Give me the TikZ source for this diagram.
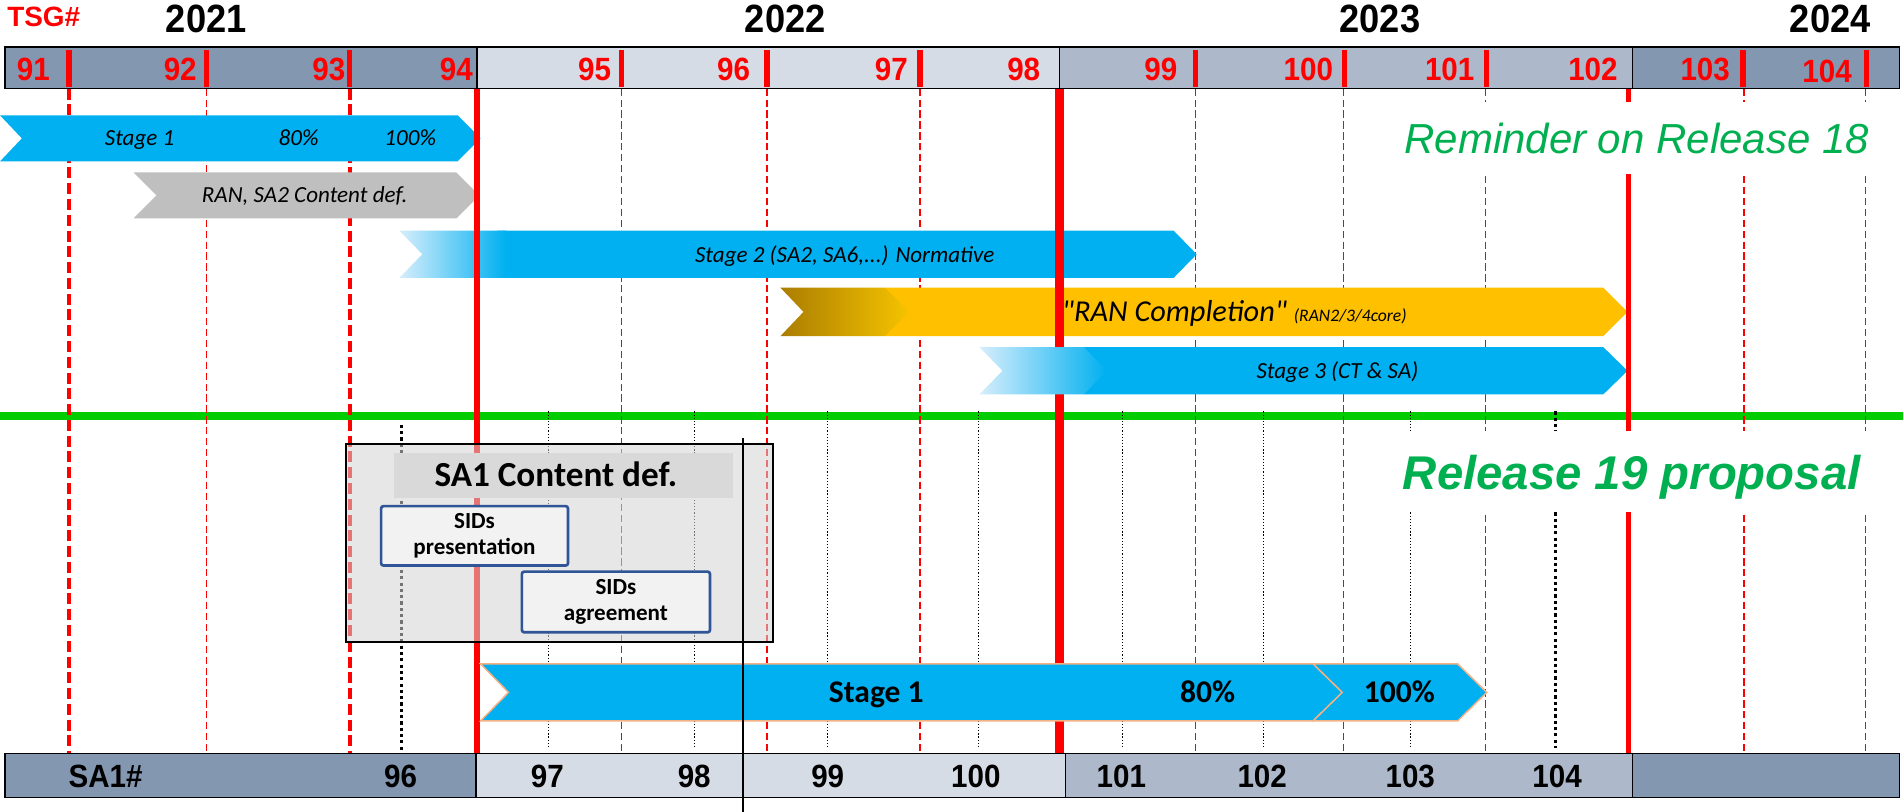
\documentclass[tikz,border=0pt]{standalone}
\usepackage{fontspec}
\setmainfont{Carlito}
\newfontfamily\carlitoplain{Carlito}
\newfontfamily\arialfont{Liberation Sans}
\newfontfamily\numfont[FakeStretch=0.92]{Liberation Sans}
\definecolor{barDark}{RGB}{132,151,176}
\definecolor{barLight}{RGB}{214,220,229}
\definecolor{barMid}{RGB}{173,185,202}
\definecolor{arrowblue}{RGB}{0,176,240}
\definecolor{arrowgray}{RGB}{191,191,191}
\definecolor{arrowyellow}{RGB}{255,192,0}
\definecolor{goldDark}{RGB}{170,125,0}
\definecolor{goldLight}{RGB}{245,195,0}
\definecolor{paleblue}{RGB}{215,238,252}
\definecolor{relgreen}{RGB}{0,176,80}
\definecolor{linegreen}{RGB}{0,204,0}
\definecolor{sidblue}{RGB}{47,85,151}
\definecolor{peach}{RGB}{244,177,131}
\definecolor{boxgray}{RGB}{213,213,213}
\definecolor{titlegray}{RGB}{217,217,217}
\definecolor{sidfill}{RGB}{242,242,242}
\tikzset{
  redthick/.style={draw=red, line width=3.3pt, dash pattern=on 9pt off 4pt},
  redthin/.style={draw=red, line width=1.2pt, dash pattern=on 6pt off 3pt},
  redsolid/.style={draw=red},
  dotthin/.style={draw=black, line width=0.8pt, dash pattern=on 1pt off 1.6pt},
  dotthick/.style={draw=black, line width=2.6pt, dash pattern=on 2.6pt off 2.6pt},
  barseg/.style={draw=black, line width=1.3pt},
  tick/.style={draw=red, line width=4.5pt},
  topnum/.style={text=red, font=\numfont\bfseries\fontsize{26.5}{30}\selectfont},
  botnum/.style={text=black, font=\numfont\bfseries\fontsize{26.5}{30}\selectfont},
  yearlbl/.style={text=black, font=\numfont\bfseries\fontsize{32.5}{36}\selectfont},
  arrtxt/.style={anchor=base, font=\itshape\fontsize{19}{22}\selectfont},
  bottxt/.style={anchor=base, font=\bfseries\fontsize{26}{30}\selectfont},
  sidbox/.style={draw=sidblue, line width=2.2pt, fill=sidfill, rounded corners=2pt},
  sidtxt/.style={align=center, font=\bfseries\fontsize{19}{21.5}\selectfont},
}
\begin{document}
\begin{tikzpicture}[x=1pt,y=-1pt, every node/.style={inner sep=0pt, outer sep=0pt}]
\useasboundingbox (0,0) rectangle (1568,669);
\fill[white] (0,0) rectangle (1568,669);

% green separator
\draw[linegreen, line width=6.6pt] (0,343) -- (1568,343);

% vertical grid lines
\foreach \x in {170,512,632,758,985,1107,1224,1437,1537}
  \draw[redthin] (\x,73) -- (\x,621);
\foreach \x in {57,288}
  \draw[redthick] (\x,73) -- (\x,621);
\foreach \x in {452,572,682,806,925,1041,1162}
  \draw[dotthin] (\x,339) -- (\x,616);
\draw[dotthick] (331,350) -- (331,624);
\draw[dotthick] (1282,339) -- (1282,616);

% Release 18 arrows
\fill[arrowblue] (0,95) -- (377,95) -- (396,114) -- (377,133) -- (0,133) -- (18,114) -- cycle;
\node[arrtxt] (r18s1) at (115,120) {Stage 1};
\node[arrtxt] (r18s80) at (246,120) {80\%};
\node[arrtxt] (r18s100) at (338,120) {100\%};

\fill[arrowgray] (110,142) -- (376,142) -- (395,161) -- (376,180) -- (110,180) -- (129,161) -- cycle;
\node[arrtxt] (rancd) at (251,167) {RAN, SA2 Content def.};

\fill[arrowblue] (410,190) -- (967,190) -- (986,209.5) -- (967,229) -- (410,229) -- cycle;
\path[left color=paleblue, right color=arrowblue] (329,190) -- (417,190) -- (417,229) -- (329,229) -- (348,209.5) -- cycle;
\node[arrtxt] (st2) at (696,216) {Stage 2 (SA2, SA6,...) Normative};

\fill[arrowyellow] (729,237) -- (1321,237) -- (1341,257) -- (1321,277) -- (729,277) -- cycle;
\path[left color=goldDark, right color=goldLight] (643,237) -- (729,237) -- (749,257) -- (729,277) -- (643,277) -- (662,257) -- cycle;
\node[anchor=base, font=\carlitoplain\itshape] (rancomp) at (1017,265) {\fontsize{25}{28}\selectfont "RAN Completion" \fontsize{14.5}{17}\selectfont(RAN2/3/4core)};

\fill[arrowblue] (893,286) -- (1321,286) -- (1341,305.5) -- (1321,325) -- (893,325) -- cycle;

% solid red lines
\draw[redsolid, line width=4.8pt] (393,73) -- (393,621);
\draw[redsolid, line width=8pt] (873,73) -- (873,621);
\draw[redsolid, line width=4.4pt] (1342,73) -- (1342,621);

\path[left color=paleblue, right color=arrowblue] (807,286) -- (893,286) -- (912,305.5) -- (893,325) -- (807,325) -- (826,305.5) -- cycle;
\node[arrtxt] (st3) at (1102,311.6) {Stage 3 (CT \& SA)};

% titles with white backgrounds
\fill[white] (1150,84) rectangle (1568,143);
\fill[white] (1150,355) rectangle (1568,422);
\node[text=relgreen, font=\arialfont\itshape\fontsize{34.6}{40}\selectfont] (rem) at (1348.5,114) {Reminder on Release 18};
\node[anchor=base, text=relgreen, font=\arialfont\bfseries\itshape\fontsize{39}{44}\selectfont] (rel19) at (1344.5,403) {Release 19 proposal};

% SA1 content definition box
\draw[fill=boxgray, fill opacity=0.55, draw=black, line width=1.4pt] (285,366) rectangle (637,529);
\fill[titlegray] (325,373) rectangle (604,410);
\node[anchor=base, font=\bfseries\fontsize{29}{32}\selectfont] (sa1cd) at (458,401) {SA1 Content def.};
\draw[sidbox] (314,417) rectangle (468,466);
\node[sidtxt] (sidp) at (391,441.5) {SIDs\\presentation};
\draw[sidbox] (430,471) rectangle (585,521);
\node[sidtxt] (sida) at (507.5,496) {SIDs\\agreement};

% Release 19 Stage 1 arrow
\draw[fill=arrowblue, draw=peach, line width=1.2pt] (396,547) -- (1082,547) -- (1106,570.5) -- (1082,594) -- (396,594) -- (419,570.5) -- cycle;
\draw[fill=arrowblue, draw=peach, line width=1.2pt] (1082,547) -- (1201,547) -- (1225,570.5) -- (1201,594) -- (1082,594) -- (1106,570.5) -- cycle;
\node[bottxt] (b19s1) at (722,579) {Stage 1};
\node[bottxt] (b19s80) at (995,579) {80\%};
\node[bottxt] (b19s100) at (1153,579) {100\%};

% black marker line
\draw[black, line width=1.4pt] (612,361) -- (612,669);

% top TSG bar
\draw[barseg, fill=barDark] (4,38.5) rectangle (393,73);
\draw[barseg, fill=barLight] (393,38.5) rectangle (873,73);
\draw[barseg, fill=barMid] (873,38.5) rectangle (1345,73);
\draw[barseg, fill=barDark] (1345,38.5) rectangle (1565,73);
\foreach \x in {57,170,288,512,632,758,985,1108,1225,1436,1538}
  \draw[tick] (\x,41) -- (\x,72);
\foreach \n/\x/\y in {91/27.5/57, 92/148.5/57, 93/271/57, 94/376/57, 95/490/57, 96/604.5/57, 97/734.5/57, 98/843.5/57, 99/956.5/57, 100/1078/57, 101/1194.5/57, 102/1312.5/57, 103/1405/57, 104/1505.5/59}
  \node[topnum] (t\n) at (\x,\y) {\n};

% bottom SA1 bar
\draw[barseg, fill=barDark] (4,621) rectangle (392,657);
\draw[barseg, fill=barLight] (392,621) rectangle (878,657);
\draw[barseg, fill=barMid] (878,621) rectangle (1345,657);
\draw[barseg, fill=barDark] (1345,621) rectangle (1565,657);
\node[botnum] (sa1h) at (87,640) {SA1\#};
\foreach \n/\x in {96/330, 97/451, 98/572, 99/682, 100/804, 101/924, 102/1040, 103/1162, 104/1283}
  \node[botnum] (b\n) at (\x,640) {\n};
\draw[black, line width=1.4pt] (612,621) -- (612,669);

% years and header
\node[anchor=west, text=red, font=\arialfont\bfseries\fontsize{23}{26}\selectfont] (tsg) at (6,14) {TSG\#};
\node[yearlbl] (y21) at (170,16) {2021};
\node[yearlbl] (y22) at (647,16) {2022};
\node[yearlbl] (y23) at (1137,16) {2023};
\node[yearlbl] (y24) at (1508,16) {2024};
\end{tikzpicture}
\end{document}
